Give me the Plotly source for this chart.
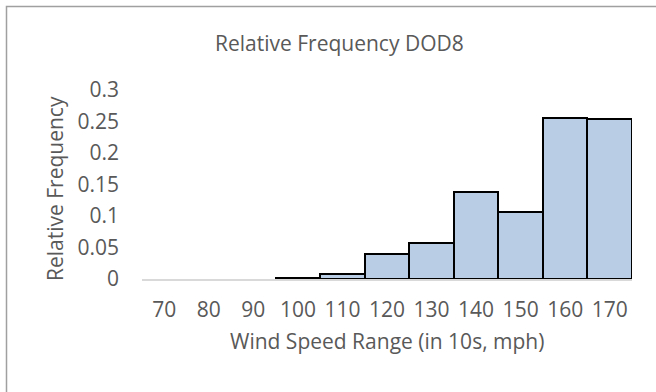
import plotly.graph_objects as go

categories = ["70", "80", "90", "100", "110", "120", "130", "140", "150", "160", "170"]
rel_freq = [0, 0, 0, 0.002, 0.008, 0.039, 0.057, 0.138, 0.106, 0.256, 0.254]
y_ticks = [0, 0.05, 0.1, 0.15, 0.2, 0.25, 0.3]
y_tick_text = ["0", "0.05", "0.1", "0.15", "0.2", "0.25", "0.3"]

chart_title = "Relative Frequency DOD8"
x_title = "Wind Speed Range (in 10s, mph)"
y_title = "Relative Frequency"

W, H = 656, 392
L, R, T, B = 142, 24, 90, 113
pw, ph = W - L - R, H - T - B

def px(x):
    return (x - L) / pw

def py(y):
    return (H - B - y) / ph

FONT = "Open Sans"
GRAY = "#595959"
TICK_SIZE = 21
TITLE_SIZE = 21

# zero-height bars show no outline in the reference
outline_widths = [0 if v == 0 else 2 for v in rel_freq]

fig = go.Figure(
    go.Bar(
        x=categories,
        y=rel_freq,
        marker=dict(color="#B9CDE5", line=dict(color="black", width=outline_widths)),
    )
)

fig.update_layout(
    width=W,
    height=H,
    margin=dict(l=L, r=R, t=T, b=B),
    paper_bgcolor="white",
    plot_bgcolor="white",
    bargap=0,
    showlegend=False,
    font=dict(family=FONT, color=GRAY, size=TICK_SIZE),
)

fig.update_xaxes(
    type="category",
    showgrid=False,
    showline=True,
    linecolor="#D9D9D9",
    linewidth=2,
    ticks="",
    ticklabelstandoff=11,
    tickfont=dict(family=FONT, size=TICK_SIZE, color=GRAY),
    zeroline=False,
)
fig.update_yaxes(
    range=[0, 0.3],
    tickvals=y_ticks,
    ticktext=y_tick_text,
    showgrid=False,
    showline=False,
    zeroline=False,
    ticks="",
    ticklabelstandoff=22,
    tickfont=dict(family=FONT, size=TICK_SIZE, color=GRAY),
)

fig.add_annotation(text=chart_title, xref="paper", yref="paper",
                   x=px(339), y=py(43), showarrow=False,
                   xanchor="center", yanchor="middle",
                   font=dict(family=FONT, size=TITLE_SIZE, color=GRAY))
fig.add_annotation(text=x_title, xref="paper", yref="paper",
                   x=0.5, y=py(341), showarrow=False,
                   xanchor="center", yanchor="middle",
                   font=dict(family=FONT, size=TITLE_SIZE, color=GRAY))
fig.add_annotation(text=y_title, xref="paper", yref="paper",
                   x=px(55), y=py(189), showarrow=False, textangle=-90,
                   xanchor="center", yanchor="middle",
                   font=dict(family=FONT, size=TITLE_SIZE, color=GRAY))

fig.add_shape(type="rect", xref="paper", yref="paper",
              x0=px(6.5), x1=px(720), y0=py(450), y1=py(6.5),
              line=dict(color="#A0A0A0", width=1.5), fillcolor="rgba(0,0,0,0)",
              layer="above")

fig.write_html("out.html")
